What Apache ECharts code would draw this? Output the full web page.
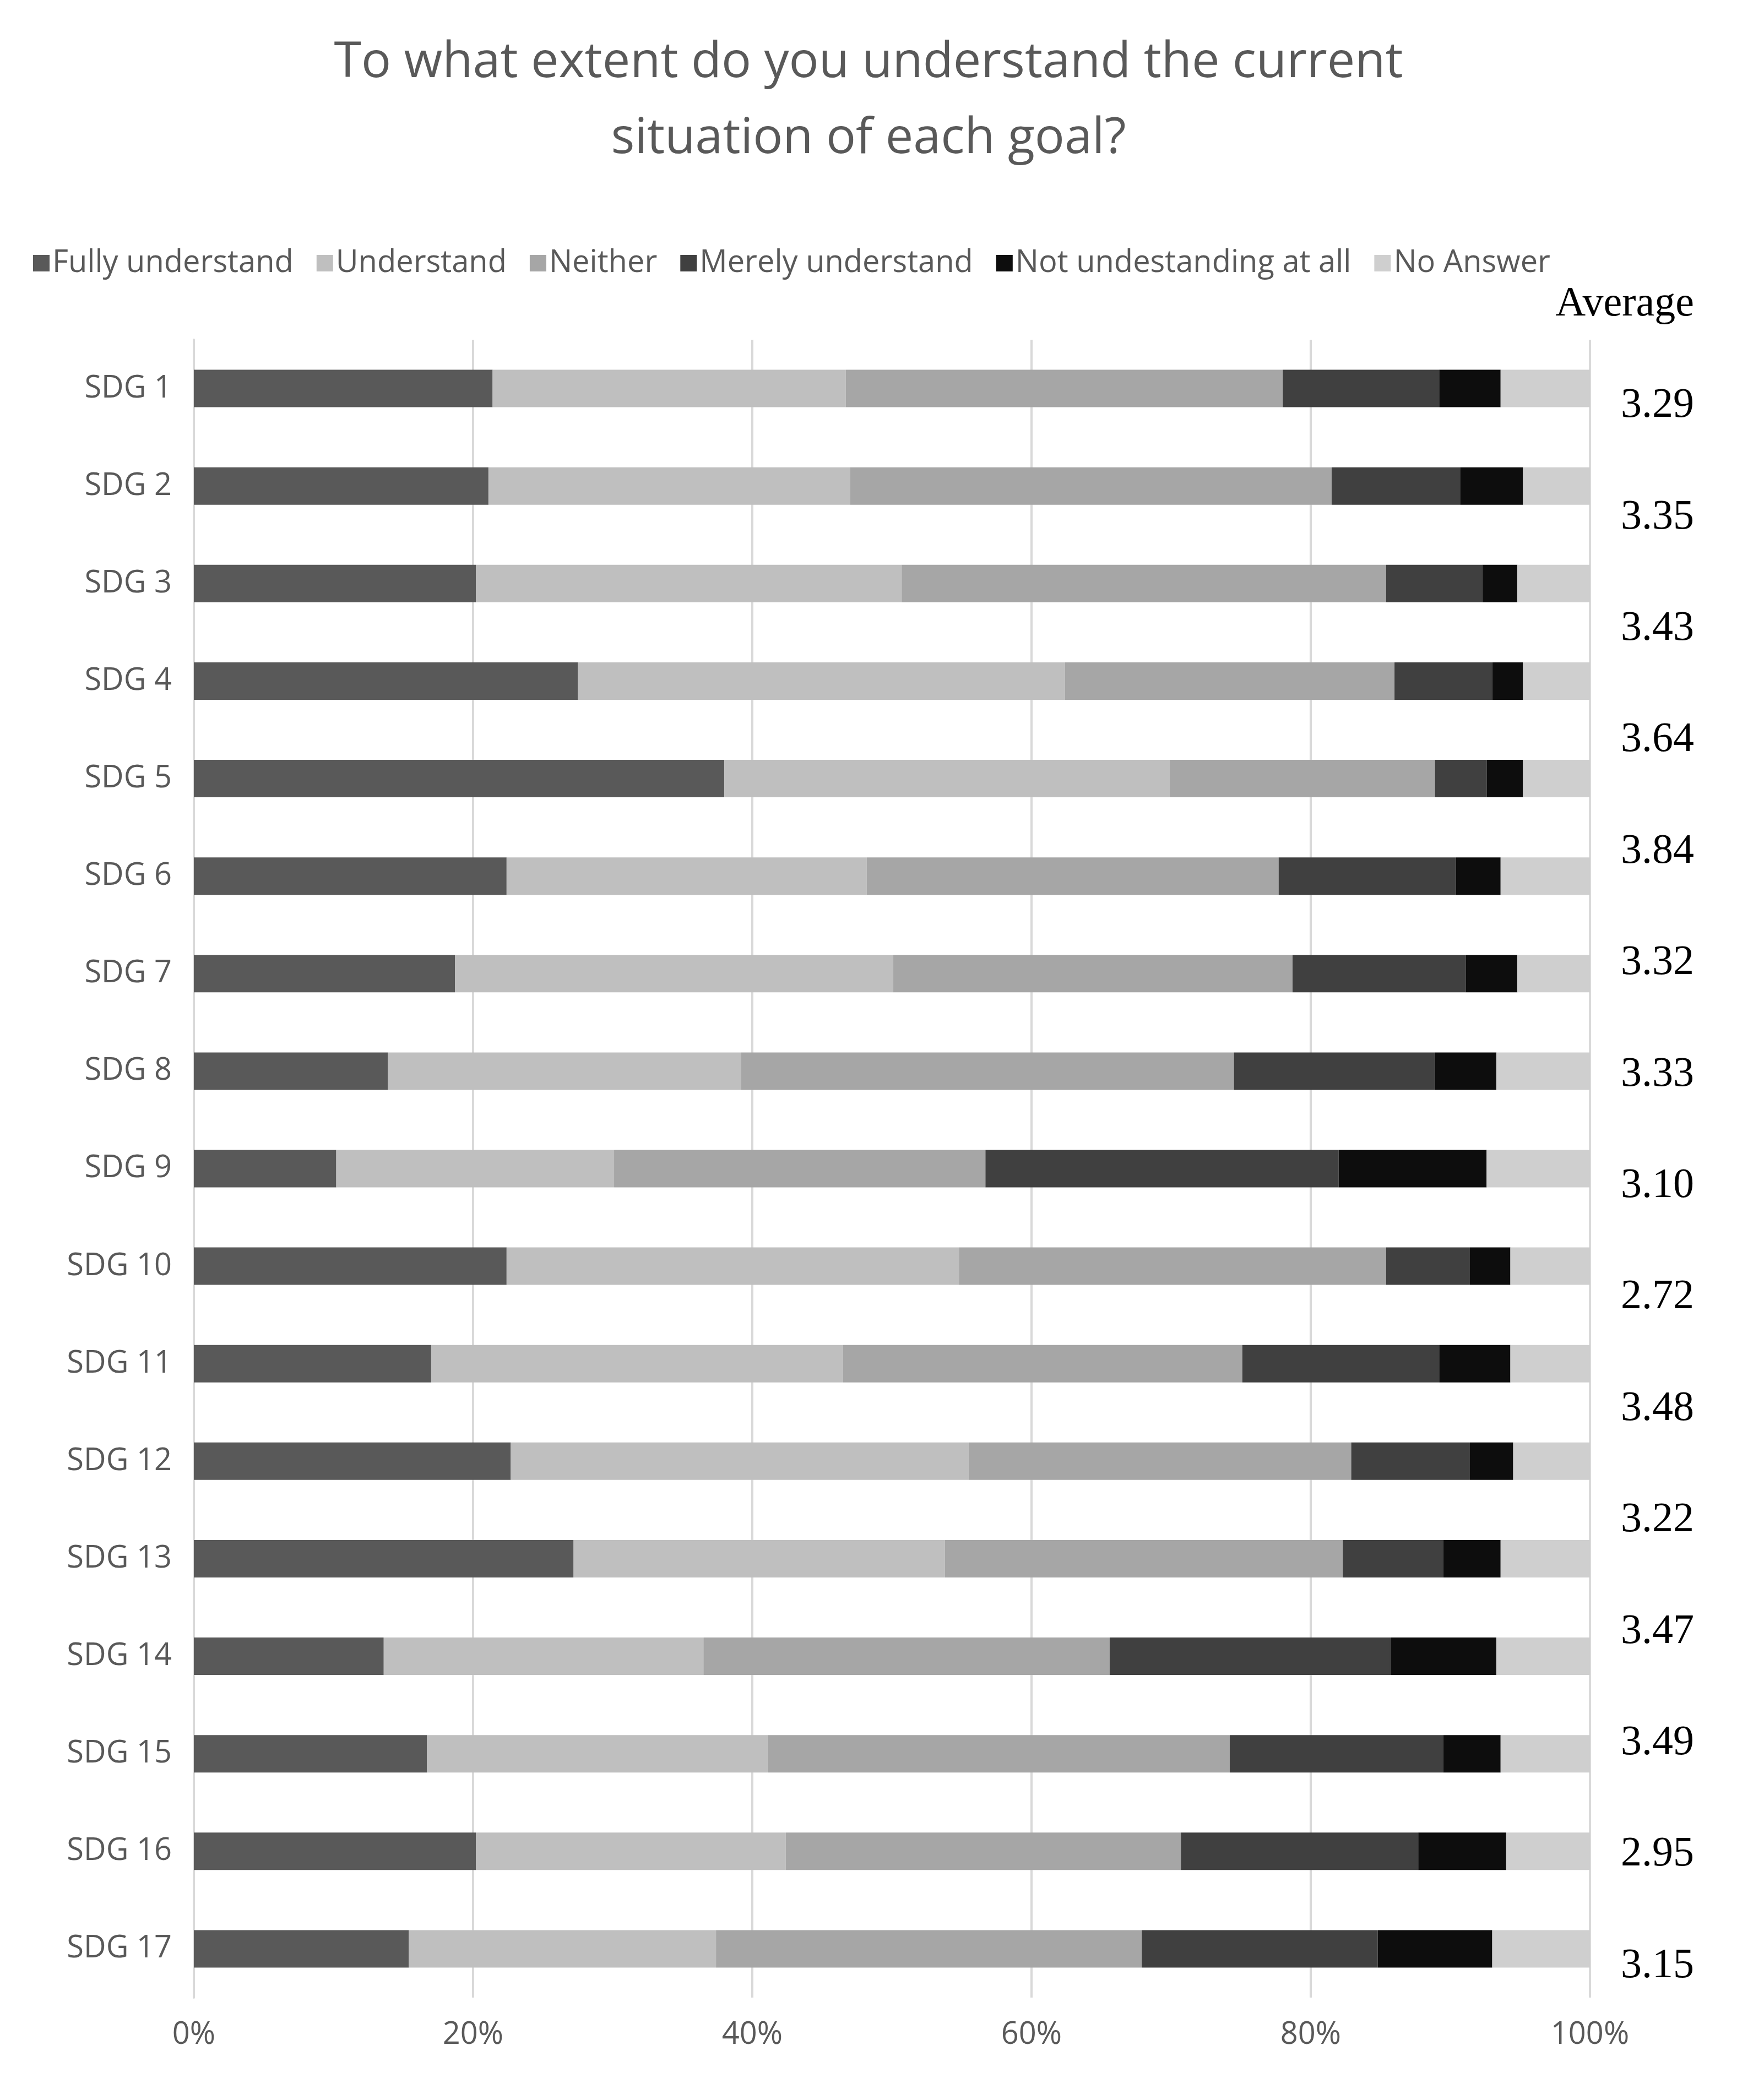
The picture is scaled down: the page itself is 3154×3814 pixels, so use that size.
<!DOCTYPE html>
<html><head><meta charset="utf-8">
<script src="https://cdn.jsdelivr.net/npm/echarts@6/dist/echarts.min.js"></script>
<style>html,body{margin:0;background:#fff}#chart_1{width:3154px;height:3814px}</style>
</head><body><div id="chart_1"></div>
<script>
var categories = ['SDG 1','SDG 2','SDG 3','SDG 4','SDG 5','SDG 6','SDG 7','SDG 8','SDG 9','SDG 10','SDG 11','SDG 12','SDG 13','SDG 14','SDG 15','SDG 16','SDG 17'];
var seriesNames = ['Fully understand','Understand','Neither','Merely understand','Not undestanding at all','No Answer'];
var fully    = [21.4,21.1,20.2,27.5,38.0,22.4,18.7,13.9,10.2,22.4,17.0,22.7,27.2,13.6,16.7,20.2,15.4];
var underst  = [25.3,25.9,30.5,34.9,31.9,25.8,31.4,25.3,19.9,32.4,29.5,32.8,26.6,22.9,24.4,22.2,22.0];
var neither  = [31.3,34.5,34.7,23.6,19.0,29.5,28.6,35.3,26.6,30.6,28.6,27.4,28.5,29.1,33.1,28.3,30.5];
var merely   = [11.2,9.2,6.9,7.0,3.7,12.7,12.4,14.4,25.3,6.0,14.1,8.5,7.2,20.1,15.3,17.0,16.9];
var notAtAll = [4.4,4.5,2.5,2.2,2.6,3.2,3.7,4.4,10.6,2.9,5.1,3.1,4.1,7.6,4.1,6.3,8.2];
var noAnswer = [6.4,4.8,5.2,4.8,4.8,6.4,5.2,6.7,7.4,5.7,5.7,5.5,6.4,6.7,6.4,6.0,7.0];
var averages = ['3.29','3.35','3.43','3.64','3.84','3.32','3.33','3.10','2.72','3.48','3.22','3.47','3.49','2.95','3.15'];
var xTicks = [0,20,40,60,80,100];

var colors = ['#595959','#bfbfbf','#a6a6a6','#404040','#0d0d0d','#cfcfcf'];
var allData = [fully, underst, neither, merely, notAtAll, noAnswer];

var chart_1 = echarts.init(document.getElementById('chart_1'));
var series = [];
for (var i = 0; i < seriesNames.length; i++) {
    series.push({
        name: seriesNames[i], type: 'bar', stack: 'all', barWidth: 68,
        itemStyle: {color: colors[i]}, data: allData[i]
    });
}
// hidden bar series just to carry the average axis
series.push({type: 'bar', xAxisIndex: 1, yAxisIndex: 1, data: averages.map(function(){return 0;}), silent: true});

chart_1.setOption({
    backgroundColor: '#fff',
    animation: false,
    color: colors,
    title: {
        text: 'To what extent do you understand the current\nsituation of each goal?',
        left: 'center', top: 40,
        textStyle: {fontFamily: 'Open Sans', fontSize: 90, fontWeight: 'normal', color: '#595959', lineHeight: 138}
    },
    legend: {
        data: seriesNames, top: 445, left: 55, itemWidth: 30, itemHeight: 30, itemGap: 42,
        icon: 'rect',
        textStyle: {fontFamily: 'Open Sans', fontSize: 56, color: '#595959'}
    },
    graphic: [{
        type: 'text', right: 78, top: 515,
        style: {text: 'Average', font: '76px "Liberation Serif"', fill: '#000'}
    }],
    grid: [
        {left: 352, right: 267, top: 617, bottom: 186},
        {left: 2900, right: 78, top: 636, bottom: 3814 - 3672}
    ],
    xAxis: [{
        type: 'value', min: 0, max: 100, interval: 20,
        axisLabel: {formatter: '{value}%', fontFamily: 'Open Sans', fontSize: 56, color: '#595959', margin: 40},
        splitLine: {lineStyle: {color: '#d9d9d9', width: 4}},
        axisLine: {show: false}, axisTick: {show: false}
    }, {
        gridIndex: 1, type: 'value', show: false, max: 1
    }],
    yAxis: [{
        type: 'category', data: categories, inverse: true,
        axisLabel: {fontFamily: 'Open Sans', fontSize: 56, color: '#595959', margin: 40},
        axisLine: {lineStyle: {color: '#d9d9d9', width: 4}}, axisTick: {show: false}
    }, {
        gridIndex: 1, type: 'category', data: averages, inverse: true, position: 'right',
        axisLabel: {fontFamily: 'Liberation Serif', fontSize: 76, color: '#000', margin: 0, align: 'right'},
        axisLine: {show: false}, axisTick: {show: false}
    }],
    series: series
});
</script></body></html>
